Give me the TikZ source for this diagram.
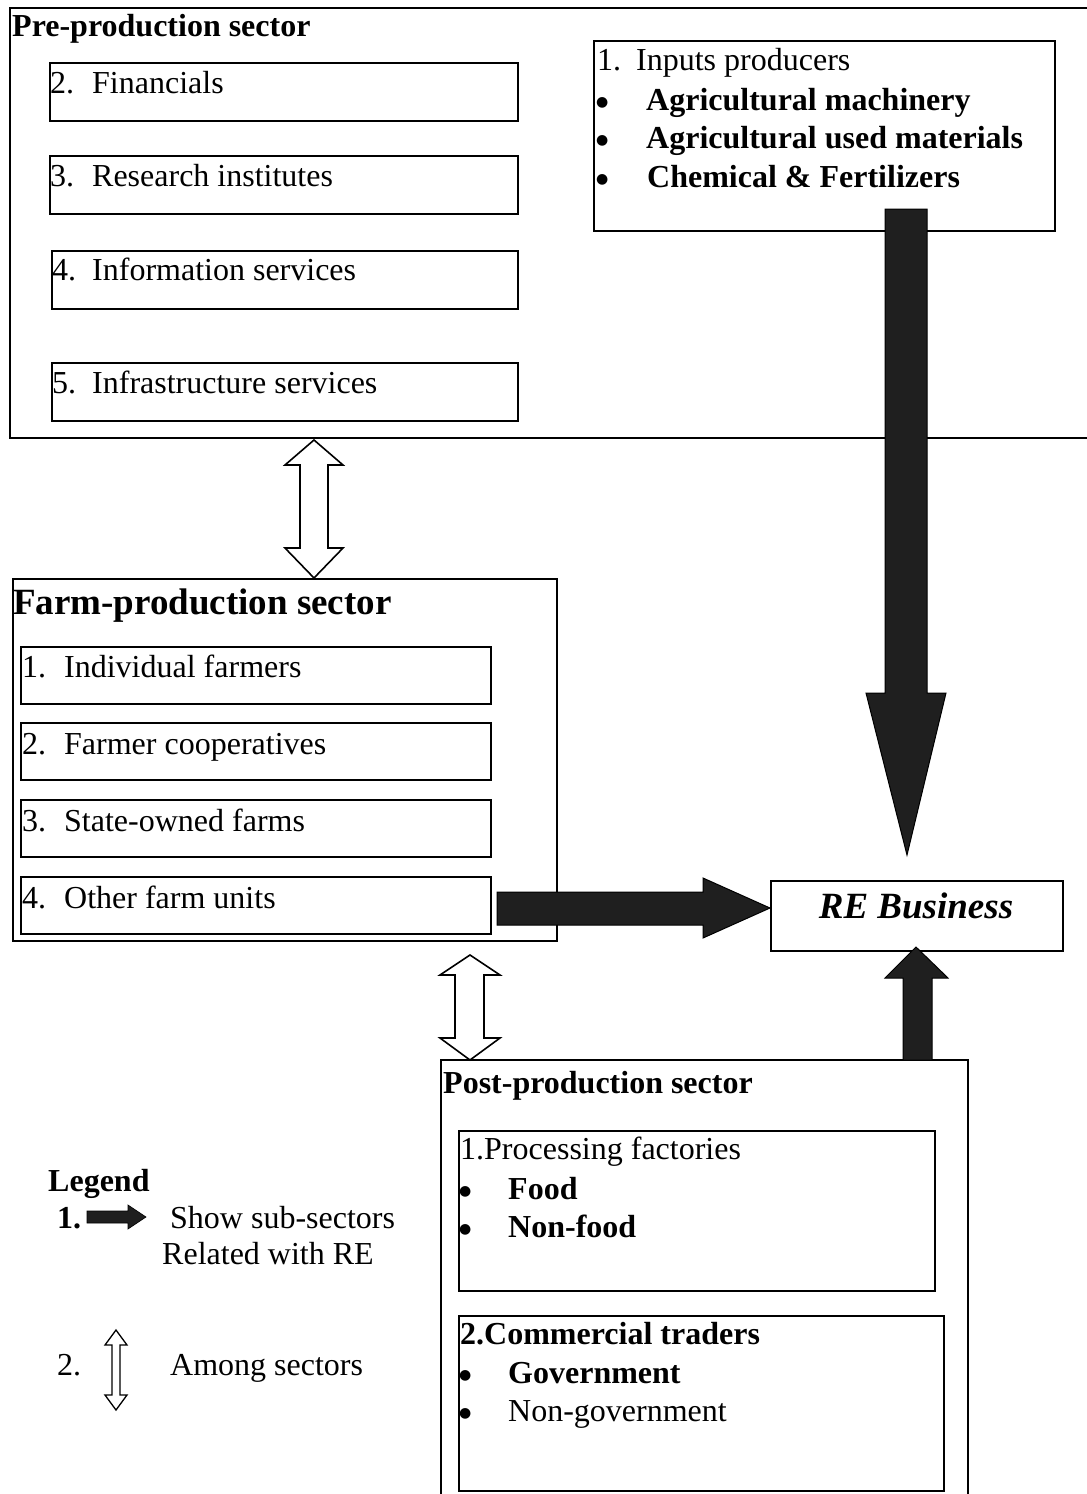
\documentclass[tikz,border=0pt]{standalone}
\usepackage{fontspec}
\setmainfont{Liberation Serif}
\newfontfamily\dejavu{DejaVu Sans}
\usetikzlibrary{calc}
\begin{document}
\begin{tikzpicture}[x=1pt,y=-1pt,
  box/.style={draw,line width=1.6pt,inner sep=0pt,anchor=north west},
  txt/.style={anchor=base west,inner sep=0pt,font=\fontsize{32}{38}\selectfont},
  btxt/.style={anchor=base west,inner sep=0pt,font=\fontsize{32}{38}\selectfont\bfseries},
  bul/.style={anchor=base west,inner sep=0pt,font=\dejavu\fontsize{14}{14}\selectfont},
  blk/.style={fill=black!88,draw=black,line width=1pt,line join=miter},
  dbl/.style={fill=white,draw=black,line width=1.6pt,line join=miter},
  edge/.style={line width=1.6pt}]
\useasboundingbox (0,0) rectangle (1087,1494);

% ---------- Pre-production sector ----------
\coordinate (preTR) at (1087,8);
\coordinate (preTL) at (10,8);
\coordinate (preBL) at (10,438);
\coordinate (preBR) at (1087,438);
\draw[edge] (preTR) -- (preTL) -- (preBL) -- (preBR);
\node[btxt] (pretitle) at (12,36) {Pre-production sector};

\node[box,minimum width=468,minimum height=58] (fin) at (49,62) {};
\node[box,minimum width=468,minimum height=58] (res) at (49,155) {};
\node[box,minimum width=466,minimum height=58] (info) at (51,250) {};
\node[box,minimum width=466,minimum height=58] (infra) at (51,362) {};
\node[txt] (tfin) at (50,93) {\makebox[42pt][l]{2.}Financials};
\node[txt] (tres) at (50,186) {\makebox[42pt][l]{3.}Research institutes};
\node[txt] (tinfo) at (52,280) {\makebox[40pt][l]{4.}Information services};
\node[txt] (tinfra) at (52,393) {\makebox[40pt][l]{5.}Infrastructure services};

\node[box,minimum width=461,minimum height=190] (inp) at (593,40) {};
\node[txt] (tinp) at (597,70) {\makebox[39pt][l]{1.}Inputs producers};
\node[bul] (b1) at (596,106) {●};
\node[btxt] (tb1) at (646,110) {Agricultural machinery};
\node[bul] (b2) at (596,144) {●};
\node[btxt] (tb2) at (646,148) {Agricultural used materials};
\node[bul] (b3) at (596,183) {●};
\node[btxt] (tb3) at (647,187) {Chemical \& Fertilizers};

% ---------- Farm-production sector ----------
\node[box,minimum width=544,minimum height=362] (farm) at (12,578) {};
\node[anchor=base west,inner sep=0pt,font=\fontsize{37}{44}\selectfont\bfseries] (farmtitle) at (13,614) {Farm-production sector};
\node[box,minimum width=470,minimum height=57] (f1) at (20,646) {};
\node[box,minimum width=470,minimum height=57] (f2) at (20,722) {};
\node[box,minimum width=470,minimum height=57] (f3) at (20,799) {};
\node[box,minimum width=470,minimum height=57] (f4) at (20,876) {};
\node[txt] (tf1) at (22,677) {\makebox[42pt][l]{1.}Individual farmers};
\node[txt] (tf2) at (22,754) {\makebox[42pt][l]{2.}Farmer cooperatives};
\node[txt] (tf3) at (22,831) {\makebox[42pt][l]{3.}State-owned farms};
\node[txt] (tf4) at (22,908) {\makebox[42pt][l]{4.}Other farm units};

% ---------- RE Business ----------
\node[box,minimum width=292,minimum height=70] (re) at (770,880) {};
\node[anchor=base,inner sep=0pt,font=\fontsize{37}{44}\selectfont\bfseries\itshape] (tre) at (916,918) {RE Business};

% ---------- Post-production sector ----------
\coordinate (postBL) at (441,1494);
\coordinate (postTL) at (441,1060);
\coordinate (postTR) at (968,1060);
\coordinate (postBR) at (968,1494);
\draw[edge] (postBL) -- (postTL) -- (postTR) -- (postBR);
\node[btxt] (posttitle) at (443,1093) {Post-production sector};
\node[box,minimum width=476,minimum height=160] (proc) at (458,1130) {};
\node[txt] (tproc) at (460,1159) {1.Processing factories};
\node[bul] (pb1) at (459,1195) {●};
\node[btxt] (tpb1) at (508,1199) {Food};
\node[bul] (pb2) at (459,1233) {●};
\node[btxt] (tpb2) at (508,1237) {Non-food};
\node[box,minimum width=485,minimum height=175] (comm) at (458,1315) {};
\node[btxt] (tcomm) at (460,1344) {2.Commercial traders};
\node[bul] (cb1) at (459,1379) {●};
\node[btxt] (tcb1) at (508,1383) {Government};
\node[bul] (cb2) at (459,1417) {●};
\node[txt] (tcb2) at (508,1421) {Non-government};

% ---------- block arrows to RE ----------
% inputs producers -> RE business
\draw[blk] (885,209) -- (927,209) -- (927,693) -- (946,693) -- (907,855)
  -- (866,693) -- (885,693) -- cycle;
% farm -> RE business
\draw[blk] (497,892) -- (703,892) -- (703,878) -- (770,908) -- (703,938)
  -- (703,925) -- (497,925) -- cycle;
% post -> RE business
\draw[blk] (903,1060) -- (903,978) -- (885,978) -- (916,947) -- (948,978)
  -- (932,978) -- (932,1060) -- cycle;

% ---------- double arrows among sectors ----------
\draw[dbl] (314,440) -- (343,465) -- (328,465) -- (328,548) -- (343,548)
  -- (314,578) -- (285,548) -- (300,548) -- (300,465) -- (285,465) -- cycle;
\draw[dbl] (470,955) -- (500,975) -- (484,975) -- (484,1038) -- (500,1038)
  -- (470,1060) -- (440,1038) -- (455,1038) -- (455,975) -- (440,975) -- cycle;

% ---------- Legend ----------
\node[btxt] (leg) at (48,1191) {Legend};
\node[btxt] (l1) at (57,1228) {1.};
\draw[blk,line width=0.6pt] (87,1211) -- (128,1211) -- (128,1205) -- (146,1217)
  -- (128,1229) -- (128,1223) -- (87,1223) -- cycle;
\node[txt] (l1a) at (170,1228) {Show sub-sectors};
\node[txt] (l1b) at (162,1264) {Related with RE};
\node[txt] (l2) at (57,1375) {2.};
\draw[dbl,line width=1.3pt] (116,1330) -- (127,1345) -- (120,1345) -- (120,1395)
  -- (127,1395) -- (116,1410) -- (105,1395) -- (112,1395) -- (112,1345)
  -- (105,1345) -- cycle;
\node[txt] (l2a) at (170,1375) {Among sectors};
\end{tikzpicture}
\end{document}
